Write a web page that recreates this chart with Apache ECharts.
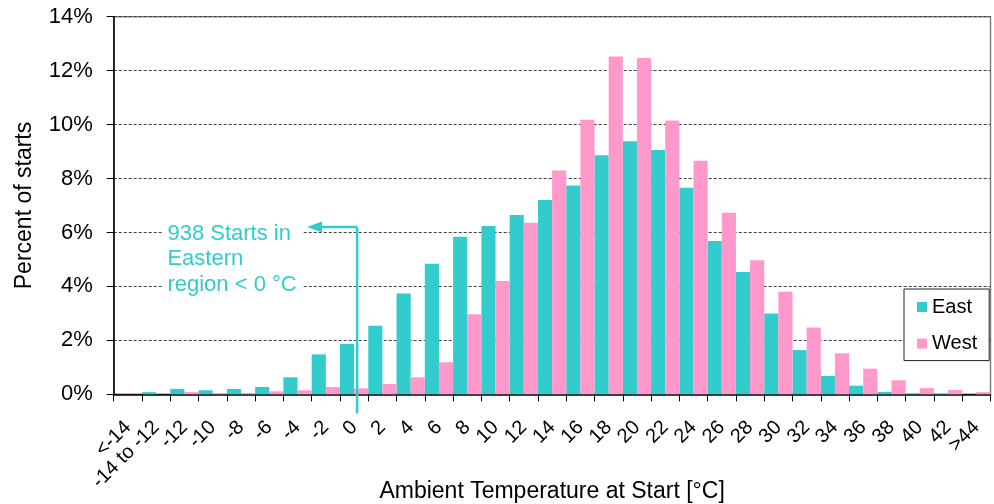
<!DOCTYPE html>
<html>
<head>
<meta charset="utf-8">
<script src="https://cdn.jsdelivr.net/npm/echarts@6/dist/echarts.min.js"></script>
<style>html,body{margin:0;padding:0;background:#fff}#c{width:994px;height:504px}</style>
</head>
<body>
<div id="c"></div>
<script>
// ---- data ----
const categories = ['<-14','-14 to -12','-12','-10','-8','-6','-4','-2','0','2','4','6','8','10','12','14','16','18','20','22','24','26','28','30','32','34','36','38','40','42','>44'];
const east = [0, 0.08, 0.20, 0.15, 0.20, 0.27, 0.63, 1.48, 1.87, 2.54, 3.74, 4.84, 5.84, 6.24, 6.65, 7.20, 7.74, 8.86, 9.38, 9.06, 7.66, 5.68, 4.53, 3.00, 1.64, 0.68, 0.32, 0.09, 0.02, 0.01, 0];
const west = [0, 0, 0.08, 0.02, 0.03, 0.11, 0.15, 0.27, 0.22, 0.38, 0.63, 1.19, 2.97, 4.20, 6.36, 8.30, 10.18, 12.52, 12.47, 10.15, 8.66, 6.73, 4.97, 3.80, 2.48, 1.52, 0.95, 0.52, 0.23, 0.16, 0.08];
const seriesNames = ['East', 'West'];
const yMin = 0, yMax = 14, yStep = 2;
const annotationText = '938 Starts in\nEastern\nregion < 0 °C';
const annotationCategory = '0';
const annotationLevel = 6.2;

const FONT = '"Liberation Sans", Arial, sans-serif';
const EAST_C = '#33CCCC', WEST_C = '#FF99CC';

const chart = echarts.init(document.getElementById('c'), null, {renderer: 'canvas'});
chart.setOption({
  animation: false,
  textStyle: {fontFamily: FONT},
  grid: {left: 113.7, right: 3.5, top: 16.7, bottom: 109.7, show: true, borderColor: '#808080', borderWidth: 1.5,
    backgroundColor: 'transparent', containLabel: false, outerBoundsMode: 'none'},
  legend: {
    orient: 'vertical', left: 904, top: 289, padding: [8, 12, 7, 13], itemGap: 16.6,
    itemWidth: 10, itemHeight: 10, icon: 'rect',
    borderColor: '#222', borderWidth: 1, backgroundColor: '#fff',
    textStyle: {fontSize: 20, color: '#000', fontFamily: FONT},
    data: seriesNames
  },
  xAxis: {
    type: 'category', data: categories,
    axisLine: {lineStyle: {color: '#000', width: 1.5}},
    axisTick: {show: true, interval: 0, length: 7, lineStyle: {color: '#000', width: 1}},
    axisLabel: {interval: 0, rotate: 45, margin: 30, fontSize: 20, color: '#000', fontFamily: FONT},
    splitLine: {show: false},
    name: 'Ambient Temperature at Start [°C]', nameLocation: 'middle', nameGap: 86, nameMoveOverlap: false,
    nameTextStyle: {fontSize: 23, color: '#000', fontFamily: FONT}
  },
  yAxis: {
    type: 'value', min: yMin, max: yMax, interval: yStep,
    axisLine: {show: true, lineStyle: {color: '#000', width: 1.5}},
    axisTick: {show: true, length: 7, lineStyle: {color: '#000', width: 1}},
    axisLabel: {formatter: '{value}%', fontSize: 22, margin: 21, color: '#000', fontFamily: FONT},
    splitLine: {show: true, lineStyle: {type: [3, 2], color: '#404040', width: 1}},
    name: 'Percent of starts', nameLocation: 'middle', nameGap: 78, nameMoveOverlap: false,
    nameTextStyle: {fontSize: 23, color: '#000', fontFamily: FONT}
  },
  series: [
    {name: seriesNames[0], type: 'bar', data: east, itemStyle: {color: EAST_C}, barGap: '0%', barCategoryGap: '0%'},
    {name: seriesNames[1], type: 'bar', data: west, itemStyle: {color: WEST_C}, barGap: '0%', barCategoryGap: '0%'}
  ]
});

// annotation anchored to the axes
const xc = chart.convertToPixel({xAxisIndex: 0}, categories.indexOf(annotationCategory));
const yA = chart.convertToPixel({yAxisIndex: 0}, annotationLevel);
const y0 = chart.convertToPixel({yAxisIndex: 0}, 0);
const vx = xc + 3;
chart.setOption({
  graphic: [
    {type: 'rect', z: 50, shape: {x: xc - 191, y: yA - 5.5, width: 140, height: 77}, style: {fill: '#fff'}},
    {type: 'text', z: 51, x: xc - 186.7, y: yA - 6,
      style: {text: annotationText, font: '22px ' + FONT, fill: EAST_C, lineHeight: 25.5, verticalAlign: 'top', align: 'left'}},
    {type: 'line', z: 52, shape: {x1: vx, y1: yA, x2: vx, y2: y0 + 19}, style: {stroke: EAST_C, lineWidth: 2.5}},
    {type: 'line', z: 52, shape: {x1: vx, y1: yA, x2: xc - 33, y2: yA}, style: {stroke: EAST_C, lineWidth: 2.5}},
    {type: 'polygon', z: 52, shape: {points: [[xc - 47, yA], [xc - 32, yA - 5.5], [xc - 32, yA + 5.5]]}, style: {fill: EAST_C}}
  ]
});
</script>
</body>
</html>
